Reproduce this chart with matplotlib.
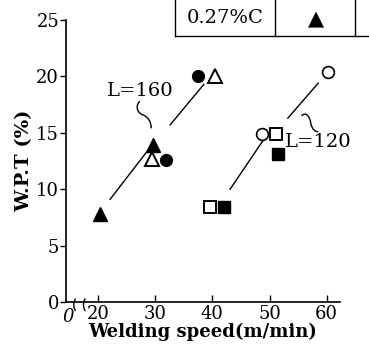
import numpy as np
import matplotlib
matplotlib.use('Agg')
import matplotlib.pyplot as plt
from matplotlib.path import Path
from matplotlib.patches import PathPatch
from matplotlib.lines import Line2D

plt.rcParams['font.family'] = 'DejaVu Serif'

# welding speed (m/min) and W.P.T (%)
# L = 160 group
tri_f_x = [20.3, 29.6]
tri_f_y = [7.8, 13.9]
tri_o_x = [29.4, 40.5]
tri_o_y = [12.7, 20.0]
cir_f_x = [31.9, 37.5]
cir_f_y = [12.6, 20.0]
# L = 120 group
cir_o_x = [48.7, 60.2]
cir_o_y = [14.9, 20.4]
sq_o_x = [39.6, 51.1]
sq_o_y = [8.4, 14.9]
sq_f_x = [42.0, 51.5]
sq_f_y = [8.4, 13.1]

# fitted lines (drawn with gaps around the markers)
l160_x = [[22.1, 29.1], [32.6, 38.5]]
l160_y = [[9.1, 13.7], [15.7, 19.3]]
l120_x = [[43.1, 49.5], [53.2, 58.5]]
l120_y = [[10.0, 14.8], [16.3, 19.4]]

xticks = [20, 30, 40, 50, 60]
yticks = [0, 5, 10, 15, 20, 25]
x0 = 14.4

fig = plt.figure(figsize=(3.69, 3.52), dpi=100)
ax = fig.add_axes([0.179, 0.142, 0.742, 0.801])

for xs, ys in zip(l160_x + l120_x, l160_y + l120_y):
    ax.plot(xs, ys, 'k-', lw=1.0)

ms = 8.5
ax.plot(tri_f_x, tri_f_y, '^', color='k', ms=10, ls='none')
ax.plot(tri_o_x, tri_o_y, '^', mfc='w', mec='k', mew=1.4, ms=10, ls='none')
ax.plot(cir_f_x, cir_f_y, 'o', color='k', ms=ms, ls='none')
ax.plot(cir_o_x, cir_o_y, 'o', mfc='w', mec='k', mew=1.2, ms=ms, ls='none')
ax.plot(sq_o_x, sq_o_y, 's', mfc='w', mec='k', mew=1.4, ms=ms, ls='none')
ax.plot(sq_f_x, sq_f_y, 's', color='k', ms=ms, ls='none')

ax.set_xlim(x0, 62.3)
ax.set_ylim(0, 25)
for s in ['top', 'right']:
    ax.spines[s].set_visible(False)
ax.spines['left'].set_linewidth(1.2)
ax.spines['bottom'].set_linewidth(1.2)

ax.set_xticks(xticks)
ax.set_yticks(yticks)
ax.tick_params(axis='x', direction='in', length=5, width=1, labelsize=13, pad=2)
ax.tick_params(axis='y', direction='out', length=4, width=1, labelsize=13, pad=1)
ax.text(x0 + 0.3, -0.5, '0', ha='center', va='top', fontsize=13, style='italic')

# axis break marks
for bx in [15.9, 17.6]:
    t = np.linspace(-1, 1, 20)
    ax.plot(bx - 0.3 * np.cos(t * 1.4) + 0.15, 0.5 * t - 0.25, 'k-', lw=1.0,
            clip_on=False)

ax.set_xlabel('Welding speed(m/min)', fontsize=13, fontweight='bold', labelpad=0)
ax.set_ylabel('W.P.T (%)', fontsize=14, fontweight='bold', labelpad=2)

ax.text(27.3, 17.9, 'L=160', ha='center', va='bottom', fontsize=14)
ax.text(58.5, 14.2, 'L=120', ha='center', va='center', fontsize=14)

# squiggles pointing to the lines
codes = [Path.MOVETO, Path.CURVE4, Path.CURVE4, Path.CURVE4,
         Path.CURVE4, Path.CURVE4, Path.CURVE4]
verts = [(27.3, 17.8), (26.5, 17.4), (26.8, 16.8), (27.8, 16.6),
         (28.8, 16.4), (29.3, 16.0), (29.3, 15.4)]
ax.add_patch(PathPatch(Path(verts, codes), fc='none', ec='k', lw=1.0))
verts = [(55.6, 16.5), (56.3, 16.9), (57.0, 16.5), (57.2, 15.9),
         (57.4, 15.3), (58.0, 15.1), (58.5, 15.1)]
ax.add_patch(PathPatch(Path(verts, codes), fc='none', ec='k', lw=1.0))

# partial legend table at the top
fig.add_artist(Line2D([175 / 369, 1.0], [1 - 36 / 352] * 2, color='k', lw=1.0))
for px in [175, 275, 355]:
    fig.add_artist(Line2D([px / 369] * 2, [1 - 36 / 352, 1.0], color='k', lw=1.0))
fig.text(225 / 369, 1 - 18 / 352, '0.27%C', ha='center', va='center', fontsize=14)
fig.text(316 / 369, 1 - 19 / 352, '\u25B2', ha='center', va='center', fontsize=15,
         family='DejaVu Sans')

fig.savefig('out.png', dpi=100)
